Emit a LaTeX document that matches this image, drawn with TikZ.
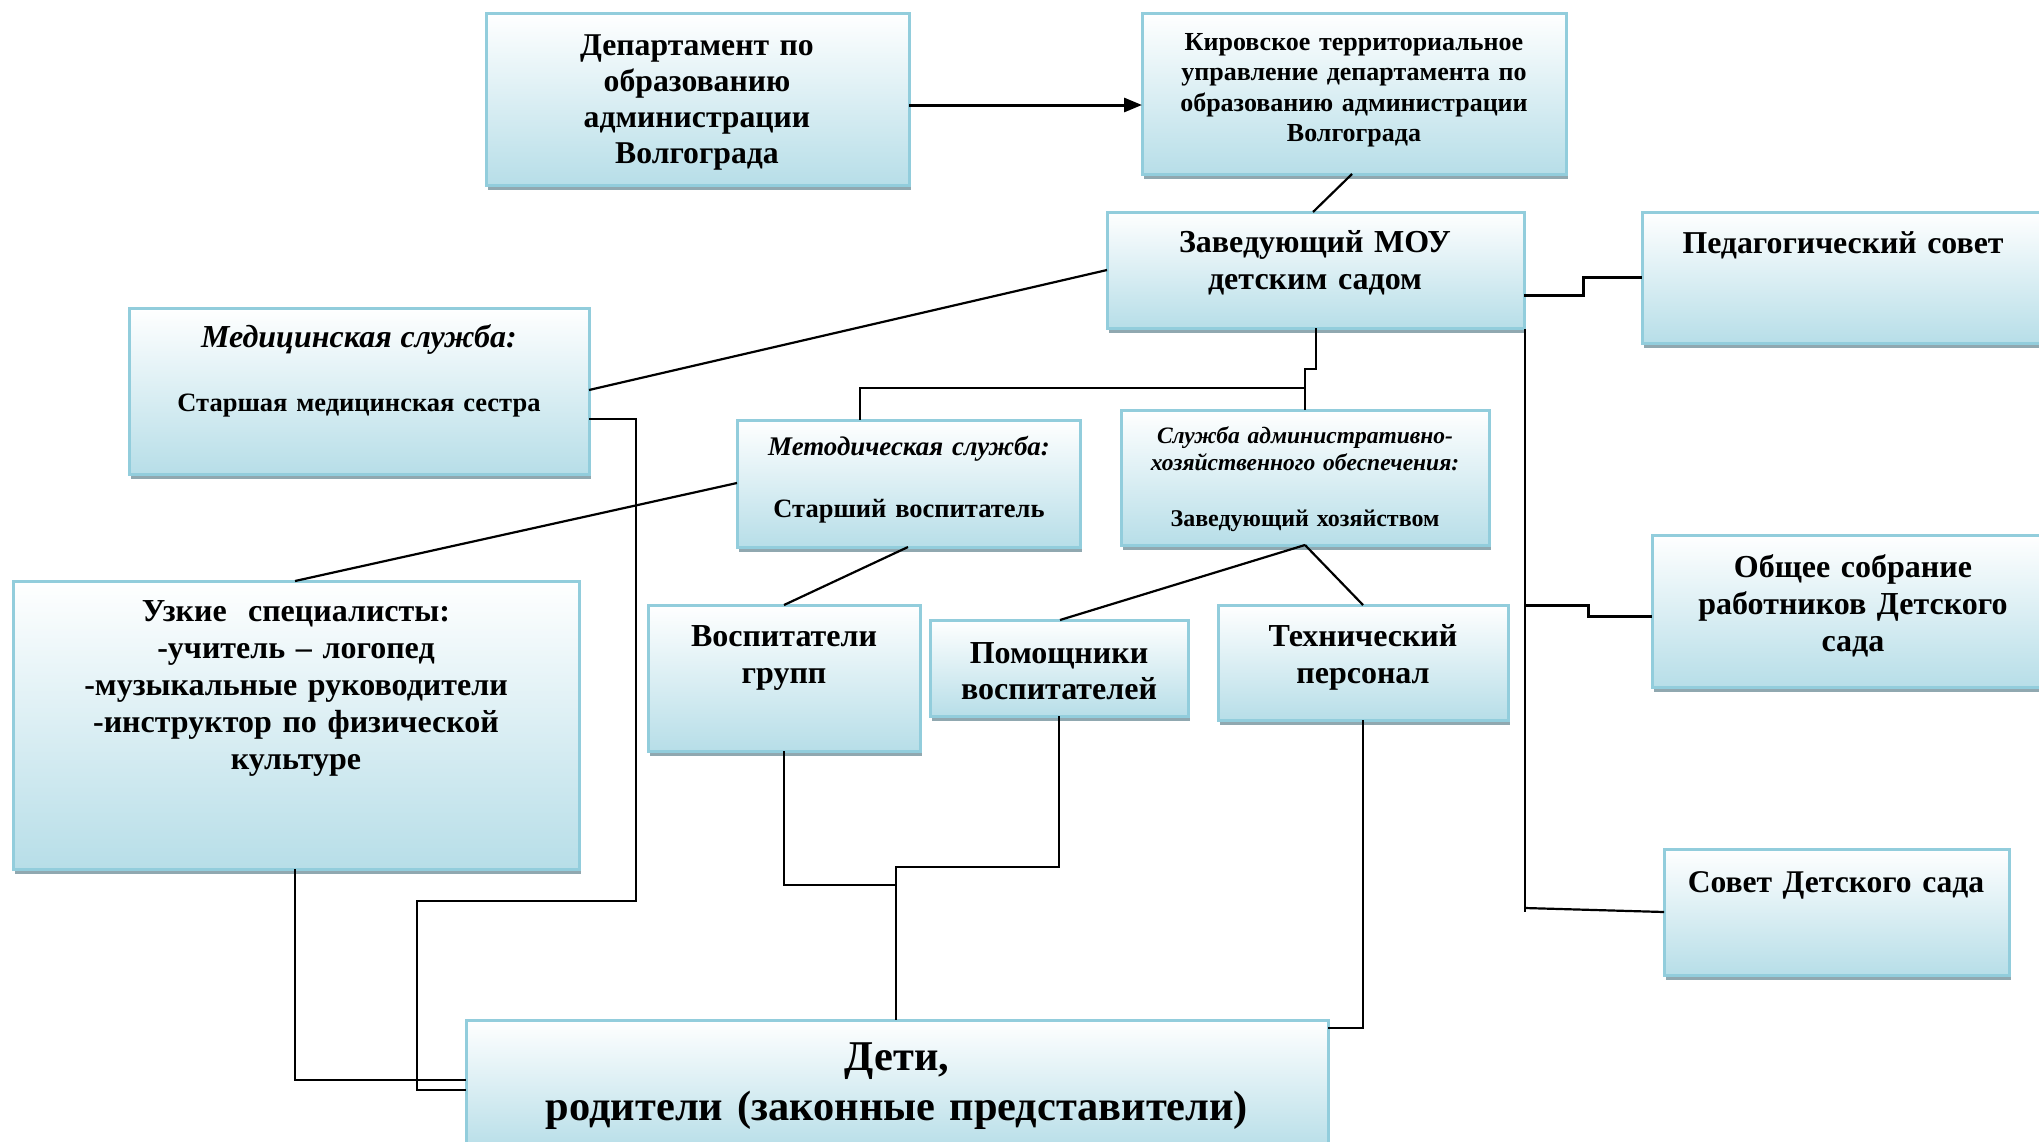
\documentclass[tikz,border=0pt]{standalone}
\usepackage{fontspec}
\setmainfont{Liberation Serif}
\usetikzlibrary{arrows.meta,shadows,calc}
\definecolor{bordc}{HTML}{92CDDC}
\definecolor{fillc}{HTML}{B7DEE8}
\definecolor{shadc}{HTML}{90A8B0}
\newcommand\fsz[2]{\fontsize{#1}{#2}\selectfont}
\newcommand\obx[5]{%
  \node[obox, minimum width={#4-#2}, minimum height={#5-#3}] (#1) at ({(#2+#4)/2},{(#3+#5)/2}) {};}
\tikzset{
  obox/.style={draw=bordc, line width=3pt, top color=white, middle color=fillc!55!white, bottom color=fillc,
    inner sep=0pt, outer sep=0pt,
    drop shadow={shadow xshift=2pt, shadow yshift=-5pt, fill=shadc, opacity=1}},
  txt/.style={align=center, inner sep=0pt, anchor=base, text=black},
  conn/.style={line width=2.2pt, black},
  connb/.style={line width=3pt, black}
}
\begin{document}
\begin{tikzpicture}[x=1pt,y=-1pt]
\useasboundingbox (0,0) rectangle (2039,1141);
% boxes
\obx{dep}{486}{13}{909}{185}
\obx{kir}{1142}{13}{1566}{174}
\obx{zav}{1107}{212}{1524}{328}
\obx{ped}{1642}{212}{2045}{343}
\obx{med}{129}{308}{589}{474}
\obx{met}{737}{420}{1080}{547}
\obx{akh}{1121}{410}{1489}{545}
\obx{uzk}{13}{581}{579}{869}
\obx{vos}{648}{605}{920}{751}
\obx{pom}{930}{620}{1188}{716}
\obx{teh}{1218}{605}{1508}{720}
\obx{obs}{1652}{535}{2054}{687}
\obx{sov}{1664}{849}{2009}{975}
\obx{det}{466}{1020}{1328}{1150}
% texts
\node[txt, text width=400pt, font=\bfseries\fsz{31.7}{36.3}] (tdep) at (697,55)
  {Департамент по\\образованию\\администрации\\Волгограда};
\node[txt, text width=410pt, font=\bfseries\fsz{26}{30.5}] (tkir) at (1354,50)
  {Кировское территориальное\\управление департамента по\\образованию администрации\\Волгограда};
\node[txt, text width=400pt, font=\bfseries\fsz{32}{37.7}] (tzav) at (1315,252)
  {Заведующий МОУ\\детским садом};
\node[txt, text width=390pt, font=\bfseries\fsz{31.8}{37}] (tped) at (1843,253)
  {Педагогический совет};
\node[txt, text width=440pt, font=\bfseries\fsz{26.5}{30}] (tmed) at (359,347)
  {\textit{\fsz{32}{30}Медицинская служба:}\\[34pt]Старшая медицинская сестра};
\node[txt, text width=330pt, font=\bfseries\fsz{26.5}{30}] (tmet) at (909,455)
  {\textit{\fsz{26.9}{30}Методическая служба:}\\[32pt]Старший воспитатель};
\node[txt, text width=360pt, font=\bfseries\fsz{23.5}{27}] (takh) at (1305,443)
  {\textit{Служба административно-}\\\textit{хозяйственного обеспечения:}\\[29pt]{\fsz{24}{27}Заведующий хозяйством}};
\node[txt, text width=550pt, font=\bfseries\fsz{32}{37}] (tuzk) at (296,621)
  {Узкие\ \ специалисты:\\-учитель -- логопед\\-музыкальные руководители\\-инструктор по физической\\культуре};
\node[txt, text width=260pt, font=\bfseries\fsz{32}{37.7}] (tvos) at (784,646)
  {Воспитатели\\групп};
\node[txt, text width=250pt, font=\bfseries\fsz{32}{36.5}] (tpom) at (1059,663)
  {Помощники\\воспитателей};
\node[txt, text width=280pt, font=\bfseries\fsz{32}{37.7}] (tteh) at (1363,646)
  {Технический\\персонал};
\node[txt, text width=390pt, font=\bfseries\fsz{32}{37}] (tobs) at (1853,577)
  {Общее собрание\\работников Детского\\сада};
\node[txt, text width=340pt, font=\bfseries\fsz{31.6}{37}] (tsov) at (1836,892)
  {Совет Детского сада};
\node[txt, text width=850pt, font=\bfseries\fsz{42.4}{50}] (tdet) at (897,1070)
  {Дети,\\родители (законные представители)};
% connectors
\draw[connb, -{Triangle[length=18pt,width=14pt]}] (dep.east |- 0,105) -- (kir.west |- 0,105);
\draw[conn] (1352,174) -- (1313,212);
\draw[connb] (zav.east |- 0,295) -- (1583,295) -- (1583,277) -- (ped.west |- 0,277);
\draw[conn] (1525,329) -- (1525,912);
\draw[connb] (1525,605) -- (1588,605) -- (1588,616) -- (obs.west |- 0,616);
\draw[conn] (1525,908) -- (sov.west |- 0,912);
\draw[conn] (zav.west |- 0,270) -- (med.east |- 0,390);
\draw[conn] (1316,328) -- (1316,369) -- (1305,369) -- (1305,388) -- (860,388) -- (met.north -| 860,0);
\draw[conn] (1305,388) -- (akh.north -| 1305,0);
\draw[conn] (med.east |- 0,419) -- (636,419) -- (636,901) -- (417,901) -- (417,1090) -- (det.west |- 0,1090);
\draw[conn] (uzk.south -| 295,0) -- (295,1080) -- (det.west |- 0,1080);
\draw[conn] (met.west |- 0,483) -- (uzk.north -| 295,0);
\draw[conn] (met.south -| 908,0) -- (vos.north -| 784,0);
\draw[conn] (akh.south -| 1305,0) -- (pom.north -| 1060,0);
\draw[conn] (akh.south -| 1305,0) -- (teh.north -| 1363,0);
\draw[conn] (vos.south -| 784,0) -- (784,885) -- (896,885);
\draw[conn] (pom.south -| 1059,0) -- (1059,867) -- (896,867) -- (det.north -| 896,0);
\draw[conn] (teh.south -| 1363,0) -- (1363,1028) -- (det.east |- 0,1028);
\end{tikzpicture}
\end{document}
